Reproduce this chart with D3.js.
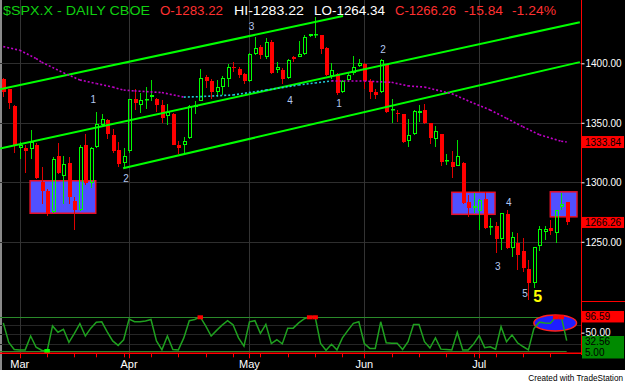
<!DOCTYPE html>
<html>
<head>
<meta charset="utf-8">
<script src="https://cdnjs.cloudflare.com/ajax/libs/d3/7.8.5/d3.min.js"></script>
<style>
  body { margin: 0; background: #fff; }
  svg { display: block; }
  text { font-family: 'Liberation Sans', Arial, sans-serif; }
</style>
</head>
<body>
<div id="chart"></div>
<script>
// trading days shown on the chart
const dates = [
  '2008-02-27', '2008-02-28', '2008-02-29',
  '2008-03-03', '2008-03-04', '2008-03-05', '2008-03-06', '2008-03-07',
  '2008-03-10', '2008-03-11', '2008-03-12', '2008-03-13', '2008-03-14',
  '2008-03-17', '2008-03-18', '2008-03-19', '2008-03-20',
  '2008-03-24', '2008-03-25', '2008-03-26', '2008-03-27', '2008-03-28',
  '2008-03-31', '2008-04-01', '2008-04-02', '2008-04-03', '2008-04-04',
  '2008-04-07', '2008-04-08', '2008-04-09', '2008-04-10', '2008-04-11',
  '2008-04-14', '2008-04-15', '2008-04-16', '2008-04-17', '2008-04-18',
  '2008-04-21', '2008-04-22', '2008-04-23', '2008-04-24', '2008-04-25',
  '2008-04-28', '2008-04-29', '2008-04-30', '2008-05-01', '2008-05-02',
  '2008-05-05', '2008-05-06', '2008-05-07', '2008-05-08', '2008-05-09',
  '2008-05-12', '2008-05-13', '2008-05-14', '2008-05-15', '2008-05-16',
  '2008-05-19', '2008-05-20', '2008-05-21', '2008-05-22', '2008-05-23',
  '2008-05-27', '2008-05-28', '2008-05-29', '2008-05-30',
  '2008-06-02', '2008-06-03', '2008-06-04', '2008-06-05', '2008-06-06',
  '2008-06-09', '2008-06-10', '2008-06-11', '2008-06-12', '2008-06-13',
  '2008-06-16', '2008-06-17', '2008-06-18', '2008-06-19', '2008-06-20',
  '2008-06-23', '2008-06-24', '2008-06-25', '2008-06-26', '2008-06-27',
  '2008-06-30', '2008-07-01', '2008-07-02', '2008-07-03',
  '2008-07-07', '2008-07-08', '2008-07-09', '2008-07-10', '2008-07-11',
  '2008-07-14', '2008-07-15', '2008-07-16', '2008-07-17', '2008-07-18',
  '2008-07-21', '2008-07-22', '2008-07-23', '2008-07-24'
]

const open = [
  1387, 1378, 1364, 1329, 1329, 1328, 1331, 1300, 1293, 1275,
  1322, 1305, 1316, 1284, 1277, 1331, 1299, 1330, 1348, 1352,
  1340, 1327, 1316, 1326, 1370, 1365, 1369, 1372, 1370, 1365,
  1356, 1357, 1331, 1331, 1337, 1363, 1368, 1388.5, 1385, 1376,
  1380, 1387, 1397, 1395, 1391, 1385, 1408, 1414, 1405, 1418,
  1394, 1394, 1388, 1405.5, 1405, 1408, 1423, 1424, 1424, 1413,
  1389, 1391, 1376, 1386, 1392, 1398, 1399, 1385, 1376, 1376,
  1399, 1361, 1358, 1357, 1335, 1341, 1358, 1361, 1349.6, 1336.4,
  1341, 1318, 1317, 1314, 1316, 1283.7, 1278, 1276, 1286, 1262.7,
  1263, 1252, 1273, 1245, 1249, 1242, 1227, 1215, 1246.5, 1258,
  1262, 1257, 1279, 1283.22
]
const high = [
  1388, 1378, 1365, 1334, 1331, 1344, 1333, 1313, 1294, 1321,
  1333, 1322, 1321, 1288, 1331, 1341, 1330, 1359, 1357, 1353,
  1345, 1334, 1329, 1370, 1378, 1375, 1380, 1386, 1371, 1369,
  1366, 1358, 1335, 1338, 1365, 1368, 1395, 1390, 1387, 1386,
  1389, 1399, 1401, 1397, 1392, 1409, 1422, 1415, 1421, 1420,
  1401, 1396, 1404, 1406, 1419, 1424, 1425, 1439, 1424, 1414,
  1400, 1392, 1386, 1392, 1406, 1404, 1400, 1387, 1378, 1404,
  1399, 1370, 1361, 1357, 1353, 1361, 1365, 1366, 1350, 1347,
  1341, 1324, 1326, 1335.5, 1317, 1289, 1291, 1286, 1292, 1270,
  1267, 1274, 1277, 1258.5, 1257, 1253, 1235, 1245.4, 1263, 1263,
  1268, 1277, 1291, 1283.7
]
const low = [
  1372, 1362, 1325, 1320, 1308, 1320, 1303, 1282, 1272, 1274,
  1307, 1282, 1282, 1260, 1276, 1298, 1295, 1329, 1347, 1336,
  1325, 1313, 1312, 1325, 1361, 1358, 1362, 1368, 1359, 1350,
  1348, 1331, 1324, 1324, 1336, 1357, 1368, 1379, 1370, 1372,
  1373, 1380, 1393, 1388, 1383, 1384, 1407, 1404, 1404, 1391,
  1392, 1383, 1387, 1401, 1405, 1407, 1422, 1421, 1408, 1389,
  1387, 1373, 1375, 1384, 1390, 1397, 1378, 1370, 1370, 1375,
  1358, 1350, 1351, 1333, 1330, 1340, 1351, 1349, 1332, 1330,
  1314, 1314.5, 1304, 1314, 1282, 1271, 1274, 1260, 1261, 1256,
  1241, 1243, 1244, 1237, 1226, 1225, 1201, 1211, 1242, 1251.5,
  1256, 1249, 1277, 1264.34
]
const close = [
  1376, 1367, 1331, 1331, 1326, 1334, 1304, 1293, 1273, 1320,
  1308, 1315, 1288, 1277, 1330, 1299, 1329, 1349, 1353, 1341,
  1326, 1315, 1322, 1370, 1367, 1369, 1370, 1373, 1365, 1354,
  1359, 1331, 1329, 1335, 1364, 1365, 1388, 1385.5, 1376, 1380,
  1388, 1397, 1396, 1390, 1385, 1408, 1413, 1407, 1418, 1392,
  1397, 1387, 1403, 1403.5, 1408, 1422, 1424.5, 1425, 1412, 1390,
  1394, 1375, 1385, 1390, 1397, 1400.5, 1385, 1376, 1373, 1403,
  1359, 1362, 1357, 1334, 1340, 1360, 1360, 1350, 1337, 1343,
  1317, 1319, 1313, 1322, 1283, 1278, 1280, 1285, 1261.5, 1263.3,
  1252, 1274, 1245, 1254, 1239, 1228, 1215, 1245.4, 1260.5, 1260.5,
  1259, 1277, 1282, 1266.26
]

// moving average, read at a few bars
const maIndex = [0, 3, 6, 7, 11, 14, 17, 20, 22, 24, 29, 33, 36, 42, 48, 54, 57, 60, 66, 71, 74, 77, 82, 86, 89, 92, 95, 98, 102, 103]
const maValue = [1414, 1411, 1404, 1401, 1392, 1386, 1383, 1380, 1377.5, 1376.8, 1375.4, 1371.6, 1372, 1373.4, 1377.5, 1381.7, 1383.5, 1385.2, 1385.1, 1384, 1381, 1380, 1374.5, 1366.4, 1360.8, 1353.8, 1346.7, 1340, 1334.5, 1333.84]

// oscillator, one value per bar
const osc = [
  80, 28, 9, 8, 8, 45, 15, 7, 4, 72,
  55, 63, 28, 52, 78, 45, 66, 82, 83, 56,
  32, 20, 35, 90, 83, 83, 85, 89, 32, 8,
  45, 9, 8, 40, 86, 89, 96, 72, 45, 60,
  74, 86, 75, 40, 18, 83, 86, 52, 76, 25,
  35, 24, 66, 66, 80, 91, 96, 97, 25, 7,
  23, 8, 40, 60, 79, 83, 25, 12, 12, 83,
  27, 26, 26, 9, 30, 76, 76, 30, 13, 40,
  10, 9, 8, 55, 8, 8, 24, 46, 14, 16,
  10, 70, 30, 48, 27, 17, 8, 65, 82, 80,
  79, 95.5, 96.6, 32.56
]

// channel lines (bar index, price)
const trendFromIndex = [-0.6, -0.6, 21.9]
const trendFromPrice = [1378.2, 1328.4, 1311.8]
const trendToIndex = [62.1, 105.4, 105.4]
const trendToPrice = [1439.7, 1434.5, 1401]

// highlighted boxes
const boxFromIndex = [4.9, 82, 100]
const boxToIndex = [16.9, 89.9, 104.9]
const boxLowPrice = [1274, 1273.1, 1271]
const boxHighPrice = [1301.3, 1291.6, 1292]

// wave count labels
const waveText = ['1', '2', '3', '4', '1', '2', '3', '4', '5']
const waveIndex = [16.45, 22.43, 45.4, 52.4, 61.4, 69.4, 90.4, 92.4, 95.4]
const wavePrice = [1369.7, 1303.4, 1431.3, 1369.2, 1366.4, 1411.8, 1229.1, 1283.4, 1206.7]
const bigWaveIndex = 97.7
const bigWavePrice = 1204.5

const priceTicks = [1250, 1300, 1350, 1400]
const oscGrid = [25, 50, 75]
const oscLevels = [5, 95]
const maLast = 1333.84
const oscLast = 32.56
const oscUpper = 96.59

const titleParts = ['$SPX.X - DAILY  CBOE', 'O-1283.22', 'HI-1283.22', 'LO-1264.34', 'C-1266.26', '-15.84', '-1.24%']

const width = 625
const height = 383
const plotRight = 581
const axisY = 353.3

const svg = d3
  .select('#chart')
  .append('svg')
  .attr('width', width)
  .attr('height', height)

svg.append('rect').attr('width', width).attr('height', height).attr('fill', '#fff')
svg.append('rect').attr('width', width).attr('height', 370).attr('fill', '#000')
svg.append('rect').attr('width', 2).attr('height', 370).attr('fill', '#8a8a8a')

const parseDate = d3.timeParse('%Y-%m-%d')
const days = dates.map(parseDate)

const xPositionScale = d3.scaleLinear().domain([0, 103]).range([3.3, 566.7])
const yPositionScale = d3.scaleLinear().domain([1250, 1400]).range([241.8, 63.3])
const oscScale = d3.scaleLinear().domain([5, 95]).range([351, 317.3])

const bars = dates.map((d, i) => {
  return { i: i, o: open[i], h: high[i], l: low[i], c: close[i] }
})

const weekStarts = d3.range(1, days.length).filter(i => days[i].getDay() < days[i - 1].getDay())
const monthStarts = d3.range(1, days.length).filter(i => days[i].getMonth() !== days[i - 1].getMonth())

// grid
svg
  .selectAll('.hgrid')
  .data(priceTicks)
  .enter()
  .append('line')
  .attr('x1', 0)
  .attr('x2', plotRight)
  .attr('y1', d => Math.round(yPositionScale(d)) + 0.5)
  .attr('y2', d => Math.round(yPositionScale(d)) + 0.5)
  .attr('stroke', '#2e2e2e')

svg
  .selectAll('.ogrid')
  .data(oscGrid)
  .enter()
  .append('line')
  .attr('x1', 0)
  .attr('x2', plotRight)
  .attr('y1', d => Math.round(oscScale(d)) + 0.5)
  .attr('y2', d => Math.round(oscScale(d)) + 0.5)
  .attr('stroke', '#262626')

svg
  .selectAll('.vgrid')
  .data(monthStarts)
  .enter()
  .append('line')
  .attr('x1', d => Math.round(xPositionScale(d)) + 0.5)
  .attr('x2', d => Math.round(xPositionScale(d)) + 0.5)
  .attr('y1', 0)
  .attr('y2', axisY)
  .attr('stroke', '#333')

// boxes
svg
  .selectAll('.box')
  .data(boxFromIndex)
  .enter()
  .append('rect')
  .attr('x', (d, k) => xPositionScale(d))
  .attr('width', (d, k) => Math.min(xPositionScale(boxToIndex[k]), plotRight - 4) - xPositionScale(d))
  .attr('y', (d, k) => yPositionScale(boxHighPrice[k]))
  .attr('height', (d, k) => yPositionScale(boxLowPrice[k]) - yPositionScale(boxHighPrice[k]))
  .attr('fill', '#5050ff')
  .attr('stroke', '#e8102a')
  .attr('stroke-width', 1.5)

// candles
const cx = d => Math.round(xPositionScale(d.i))
const bodyTop = d => Math.round(yPositionScale(Math.max(d.o, d.c)))
const bodyBottom = d => Math.max(bodyTop(d) + 1, Math.round(yPositionScale(Math.min(d.o, d.c))))
const isUp = d => d.c > d.o

svg
  .selectAll('.wick-top')
  .data(bars)
  .enter()
  .append('line')
  .attr('x1', d => cx(d) + 0.5)
  .attr('x2', d => cx(d) + 0.5)
  .attr('y1', d => Math.round(yPositionScale(d.h)))
  .attr('y2', d => bodyTop(d))
  .attr('stroke', d => (isUp(d) ? '#00e000' : '#e00000'))

svg
  .selectAll('.wick-bottom')
  .data(bars)
  .enter()
  .append('line')
  .attr('x1', d => cx(d) + 0.5)
  .attr('x2', d => cx(d) + 0.5)
  .attr('y1', d => bodyBottom(d))
  .attr('y2', d => Math.round(yPositionScale(d.l)))
  .attr('stroke', d => (isUp(d) ? '#00e000' : '#e00000'))

svg
  .selectAll('.body-down')
  .data(bars.filter(d => !isUp(d)))
  .enter()
  .append('rect')
  .attr('x', d => cx(d) - 1)
  .attr('width', 4)
  .attr('y', d => bodyTop(d))
  .attr('height', d => bodyBottom(d) - bodyTop(d))
  .attr('fill', '#ff0000')

svg
  .selectAll('.body-up')
  .data(bars.filter(d => isUp(d)))
  .enter()
  .append('rect')
  .attr('x', d => cx(d) - 0.5)
  .attr('width', 3)
  .attr('y', d => bodyTop(d) + 0.5)
  .attr('height', d => Math.max(0.5, bodyBottom(d) - bodyTop(d) - 1))
  .attr('fill', 'none')
  .attr('stroke', '#00ff00')

// channel lines
svg
  .selectAll('.trend')
  .data(trendFromIndex)
  .enter()
  .append('line')
  .attr('x1', (d, k) => xPositionScale(d))
  .attr('y1', (d, k) => yPositionScale(trendFromPrice[k]))
  .attr('x2', (d, k) => xPositionScale(trendToIndex[k]))
  .attr('y2', (d, k) => yPositionScale(trendToPrice[k]))
  .attr('stroke', '#00ff00')
  .attr('stroke-width', 2)

// moving average, cyan when rising and magenta when falling
const maSegments = d3.range(maIndex.length - 1).map(k => {
  return {
    a: [maIndex[k], maValue[k]],
    b: [maIndex[k + 1], maValue[k + 1]],
    up: maValue[k + 1] > maValue[k]
  }
})

svg
  .selectAll('.ma')
  .data(maSegments)
  .enter()
  .append('line')
  .attr('x1', d => xPositionScale(d.a[0]))
  .attr('y1', d => yPositionScale(d.a[1]))
  .attr('x2', d => xPositionScale(d.b[0]))
  .attr('y2', d => yPositionScale(d.b[1]))
  .attr('stroke', d => (d.up ? '#22c8d8' : '#c000c8'))
  .attr('stroke-width', 1.6)
  .attr('stroke-dasharray', '2,2')

// wave labels
svg
  .selectAll('.wave')
  .data(waveText)
  .enter()
  .append('text')
  .text(d => d)
  .attr('x', (d, k) => xPositionScale(waveIndex[k]))
  .attr('y', (d, k) => yPositionScale(wavePrice[k]))
  .attr('dy', '0.36em')
  .attr('text-anchor', 'middle')
  .attr('font-family', 'DejaVu Sans')
  .attr('font-size', 10)
  .attr('fill', '#b4c8f0')

svg
  .append('text')
  .text('5')
  .attr('x', xPositionScale(bigWaveIndex))
  .attr('y', yPositionScale(bigWavePrice))
  .attr('dy', '0.36em')
  .attr('text-anchor', 'middle')
  .attr('font-family', 'DejaVu Sans')
  .attr('font-weight', 'bold')
  .attr('font-size', 16)
  .attr('fill', '#ffff00')

// oscillator pane
svg
  .selectAll('.level')
  .data(oscLevels)
  .enter()
  .append('line')
  .attr('x1', 0)
  .attr('x2', xPositionScale(103))
  .attr('y1', d => Math.round(oscScale(d)) + 0.5)
  .attr('y2', d => Math.round(oscScale(d)) + 0.5)
  .attr('stroke', '#2a8a2a')

svg
  .append('ellipse')
  .attr('cx', xPositionScale(100.9))
  .attr('cy', oscScale(79.8))
  .attr('rx', xPositionScale(103.9) - xPositionScale(100))
  .attr('ry', oscScale(79.8) - oscScale(101))
  .attr('fill', '#1e1eff')
  .attr('stroke', '#ff2020')
  .attr('stroke-width', 1.5)

const oscLine = d3
  .line()
  .x((d, i) => xPositionScale(i))
  .y(d => oscScale(d))

svg
  .append('path')
  .datum(osc)
  .attr('d', oscLine)
  .attr('fill', 'none')
  .attr('stroke', '#1fa01f')
  .attr('stroke-width', 1.5)

svg
  .selectAll('.ob')
  .data(osc.map((v, i) => ({ v: v, i: i })).filter(d => d.v > 95 || d.v < 5))
  .enter()
  .append('rect')
  .attr('x', d => xPositionScale(d.i) - 2.7)
  .attr('width', 5.5)
  .attr('y', d => oscScale(d.v > 95 ? 95 : 5) - 2)
  .attr('height', 4)
  .attr('fill', d => (d.v > 95 ? '#ff0000' : '#00ff00'))

// time axis
svg
  .append('line')
  .attr('x1', 0)
  .attr('x2', plotRight)
  .attr('y1', axisY)
  .attr('y2', axisY)
  .attr('stroke', '#ff0000')
  .attr('stroke-width', 1.5)

svg
  .selectAll('.wtick')
  .data(weekStarts)
  .enter()
  .append('line')
  .attr('x1', d => Math.round(xPositionScale(d)) + 0.5)
  .attr('x2', d => Math.round(xPositionScale(d)) + 0.5)
  .attr('y1', axisY)
  .attr('y2', axisY + 4)
  .attr('stroke', '#ff0000')

svg
  .selectAll('.mtick')
  .data(monthStarts)
  .enter()
  .append('line')
  .attr('x1', d => Math.round(xPositionScale(d)) + 0.5)
  .attr('x2', d => Math.round(xPositionScale(d)) + 0.5)
  .attr('y1', axisY)
  .attr('y2', axisY + 5)
  .attr('stroke', '#ff0000')

svg
  .selectAll('.mlabel')
  .data(monthStarts)
  .enter()
  .append('text')
  .text(d => d3.timeFormat('%b')(days[d]))
  .attr('x', d => xPositionScale(d))
  .attr('y', 367.5)
  .attr('text-anchor', 'middle')
  .attr('font-size', 11)
  .attr('fill', '#fff')

// price axis
svg
  .append('line')
  .attr('x1', plotRight + 0.5)
  .attr('x2', plotRight + 0.5)
  .attr('y1', 0)
  .attr('y2', 355)
  .attr('stroke', '#ff0000')

svg
  .append('line')
  .attr('x1', plotRight)
  .attr('x2', width)
  .attr('y1', 301.5)
  .attr('y2', 301.5)
  .attr('stroke', '#ff0000')

const yAxis = d3
  .axisRight(yPositionScale)
  .tickValues(priceTicks)
  .tickSize(3)
  .tickPadding(1)
  .tickFormat(d3.format('.2f'))

svg
  .append('g')
  .attr('class', 'axis y-axis')
  .attr('transform', 'translate(' + (plotRight + 0.5) + ',0)')
  .call(yAxis)

const oscAxis = d3
  .axisRight(oscScale)
  .tickValues([50])
  .tickSize(3)
  .tickPadding(1)
  .tickFormat(d3.format('.2f'))

svg
  .append('g')
  .attr('class', 'axis osc-axis')
  .attr('transform', 'translate(' + (plotRight + 0.5) + ',-1.5)')
  .call(oscAxis)

svg.selectAll('.axis .domain').remove()
svg.selectAll('.axis line').attr('stroke', '#fff')
svg
  .selectAll('.axis text')
  .attr('fill', '#fff')
  .attr('font-size', 10)
  .attr('font-family', "'Liberation Sans', Arial, sans-serif")

// value flags on the right axis
const flags = [
  { y: yPositionScale(maLast), h: 12, text: d3.format('.2f')(maLast), fill: '#ff0000' },
  { y: yPositionScale(close[close.length - 1]), h: 11, text: d3.format('.2f')(close[close.length - 1]), fill: '#ff0000' },
  { y: oscScale(oscUpper), h: 11.5, text: d3.format('.2f')(oscUpper), fill: '#ff0000' }
]

svg
  .selectAll('.flag')
  .data(flags)
  .enter()
  .append('rect')
  .attr('x', plotRight + 1)
  .attr('width', width - plotRight - 2)
  .attr('y', d => d.y - d.h / 2)
  .attr('height', d => d.h)
  .attr('fill', d => d.fill)

svg
  .selectAll('.flag-text')
  .data(flags)
  .enter()
  .append('text')
  .text(d => d.text)
  .attr('x', 585)
  .attr('y', d => d.y)
  .attr('dy', '0.36em')
  .attr('font-size', 10)
  .attr('fill', '#000')

svg
  .append('rect')
  .attr('x', plotRight + 1)
  .attr('width', width - plotRight - 2)
  .attr('y', 336)
  .attr('height', 22.5)
  .attr('fill', '#008a00')

svg
  .selectAll('.osc-flag')
  .data([oscLast, 5])
  .enter()
  .append('text')
  .text(d => d3.format('.2f')(d))
  .attr('x', 585)
  .attr('y', (d, k) => (k === 0 ? oscScale(d) + 0.5 : oscScale(d) + 1))
  .attr('dy', '0.36em')
  .attr('font-size', 10)
  .attr('fill', '#000')

// title line
const titleX = [3, 160, 234, 314, 395, 464, 512]
const titleW = [147, 63, 70, 71, 61, 39, 44]
const titleColor = ['#10d010', '#ff3030', '#fff', '#fff', '#ff3030', '#ff3030', '#ff3030']

svg
  .selectAll('.title')
  .data(titleParts)
  .enter()
  .append('text')
  .text(d => d)
  .attr('x', (d, k) => titleX[k])
  .attr('y', 14.5)
  .attr('textLength', (d, k) => titleW[k])
  .attr('lengthAdjust', 'spacingAndGlyphs')
  .attr('font-family', 'DejaVu Sans')
  .attr('font-size', 13)
  .attr('fill', (d, k) => titleColor[k])

svg
  .append('text')
  .text('Created with TradeStation')
  .attr('x', 623)
  .attr('y', 381)
  .attr('text-anchor', 'end')
  .attr('font-size', 8.2)
  .attr('fill', '#000')
</script>
</body>
</html>
